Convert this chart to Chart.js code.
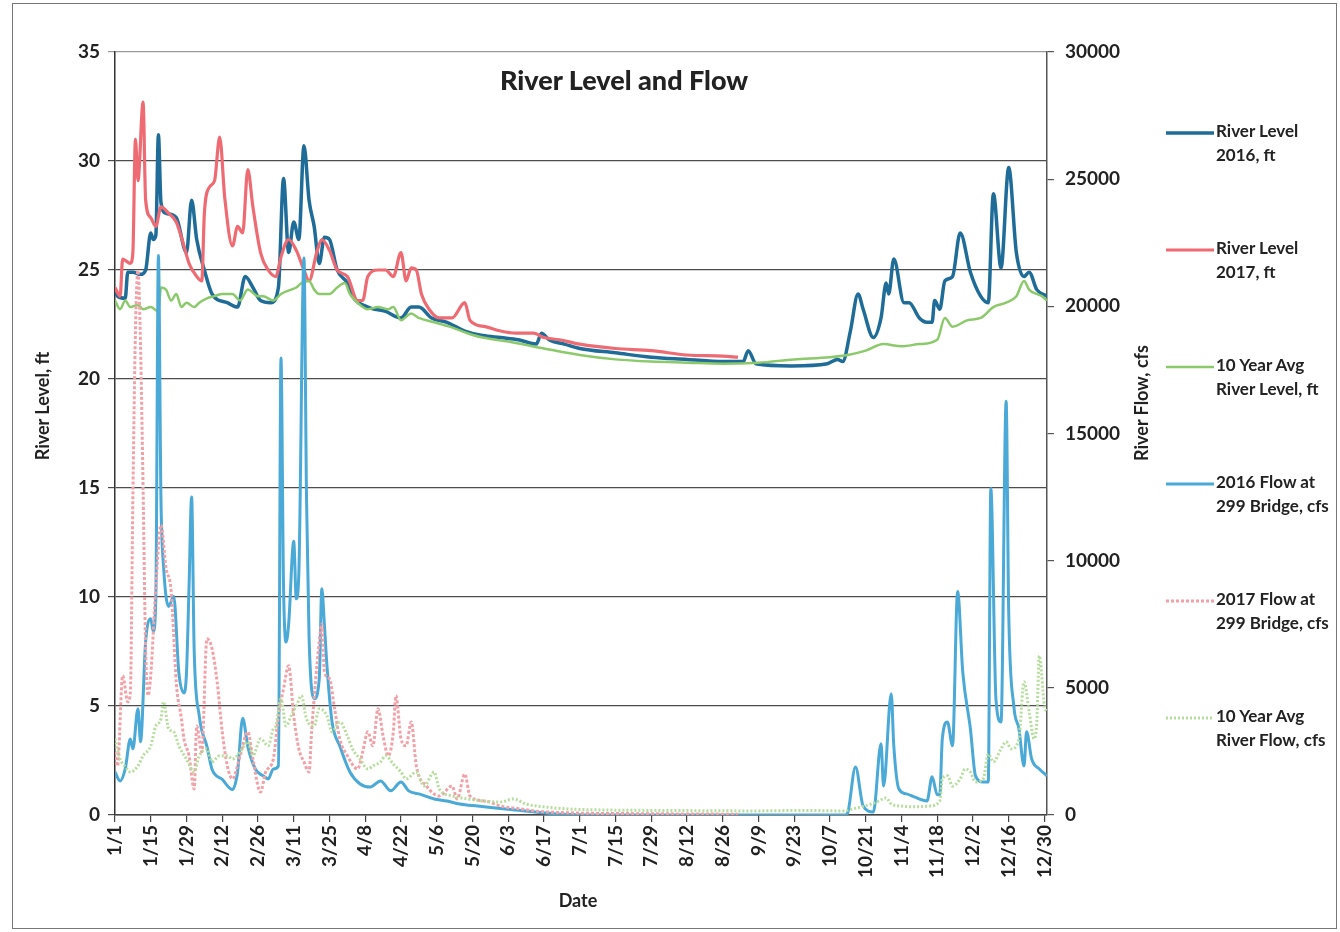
<!DOCTYPE html>
<html>
<head>
<meta charset="utf-8">
<title>River Level and Flow</title>
<script src="https://cdn.jsdelivr.net/npm/chart.js@4.4.1/dist/chart.umd.min.js"></script>
<style>
  html, body { margin: 0; padding: 0; background: #fff; }
  #wrap { position: relative; width: 1340px; height: 932px; overflow: hidden; font-family: Lato, "Open Sans", sans-serif; color: #222; }
  #c { position: absolute; left: 0; top: 0; }
  #frame { position: absolute; left: 12px; top: 3px; width: 1325px; height: 926px; box-sizing: border-box; border: 1px solid #777; pointer-events: none; }
  #title { position: absolute; left: 0; width: 1248px; top: 63px; text-align: center; font-weight: 900; font-size: 27px; line-height: 34px; color: #222; }
  .axt { position: absolute; white-space: nowrap; font-weight: bold; font-size: 18px; line-height: 22px; color: #222; transform: translate(-50%, -50%); }
  .axt.rot { transform: translate(-50%, -50%) rotate(-90deg); }
  .leg { position: absolute; left: 1165px; width: 172px; height: 50px; }
  .leg svg { position: absolute; left: 0; top: 0; }
  .leg .txt { position: absolute; left: 51px; top: -11px; font-weight: bold; font-size: 17px; line-height: 24px; color: #222; white-space: nowrap; }
</style>
</head>
<body>
<div id="wrap">
  <canvas id="c" width="1340" height="932"></canvas>
  <div id="frame"></div>
  <div id="title">River Level and Flow</div>
  <div class="axt rot" style="left:42px; top:406px;">River Level, ft</div>
  <div class="axt rot" style="left:1141px; top:403px;">River Flow, cfs</div>
  <div class="axt" style="left:578px; top:900px;">Date</div>
  <div id="legend"></div>
</div>
<script>
// Date axis tick labels (2016 calendar, every 14 days)
const tickLabels = ['1/1','1/15','1/29','2/12','2/26','3/11','3/25','4/8','4/22','5/6','5/20','6/3','6/17',
  '7/1','7/15','7/29','8/12','8/26','9/9','9/23','10/7','10/21','11/4','11/18','12/2','12/16','12/30'];

// River level 2016 (ft), by day of year
const level2016Day = [0,1,4,5,7,10,12,14,15,16,17,18,20,24,28,30,32,35,38,44,48,51,54,57,61,64,66,68,70,72,74,76,78,80,82,84,87,91,93,99,106,112,116,119,124,130,137,144,151,158,165,167,170,176,182,196,210,224,238,246,248,251,265,279,283,285,288,291,293,297,300,302,303,305,309,311,315,318,320,321,323,325,328,331,335,339,342,344,347,350,353,356,358,361,365];
const level2016Ft = [24.0,23.8,23.7,24.9,24.9,24.8,25.0,26.7,26.4,26.6,31.2,28.1,27.6,27.4,25.8,28.2,26.4,25.0,23.9,23.5,23.3,24.7,24.2,23.6,23.5,24.2,29.2,25.8,27.2,26.4,30.7,28.2,27.0,25.3,26.5,26.4,25.0,24.4,23.8,23.3,23.1,22.8,23.3,23.3,22.8,22.6,22.2,22.0,21.9,21.8,21.6,22.1,21.8,21.6,21.4,21.2,21.0,20.9,20.8,20.8,21.3,20.7,20.6,20.7,20.9,20.8,22.2,23.9,23.2,21.9,22.8,24.4,23.9,25.5,23.5,23.5,22.8,22.6,22.6,23.6,23.2,24.5,24.7,26.7,24.9,23.8,23.5,28.5,25.1,29.7,25.8,24.7,24.9,24.1,23.8];

// River level 2017 (ft)
const level2017Day = [0,2,3,6,7,8,9,11,12,14,16,18,21,24,27,29,32,34,35,37,39,41,43,46,48,50,52,54,57,60,63,65,68,71,74,76,79,81,84,87,91,95,97,99,103,106,109,112,114,116,118,120,123,127,132,137,139,145,151,157,164,168,174,182,196,210,224,238,244];
const level2017Ft = [24.2,23.8,25.5,25.3,25.8,31.0,29.1,32.7,28.2,27.4,27.0,27.9,27.6,27.2,26.1,25.3,24.7,24.5,27.6,28.8,29.1,31.1,28.3,26.1,27.0,26.7,29.6,27.9,25.8,25.0,24.7,25.6,26.4,25.9,25.0,24.5,25.8,26.4,25.9,25.0,24.7,23.6,23.6,24.7,25.0,25.0,24.7,25.8,24.5,25.1,25.0,23.9,23.2,22.8,22.8,23.5,22.7,22.4,22.2,22.1,22.1,21.9,21.8,21.6,21.4,21.3,21.1,21.05,21.0];

// 10 year average river level (ft)
const levelAvgDay = [0,2,4,6,9,11,14,17,18,20,22,24,26,28,31,33,36,39,42,46,49,52,56,58,62,65,69,71,73,76,78,80,84,87,90,92,95,99,103,107,109,112,116,119,125,131,138,144,155,168,182,196,210,224,238,252,266,280,287,294,301,308,315,322,325,328,334,339,344,349,353,356,358,361,363,365];
const levelAvgFt = [23.6,23.2,23.6,23.3,23.4,23.2,23.3,23.1,24.2,24.1,23.6,23.9,23.3,23.5,23.3,23.5,23.7,23.8,23.9,23.9,23.6,24.1,23.8,23.8,23.6,23.9,24.1,24.2,24.4,24.5,24.1,23.9,23.9,24.2,24.4,23.9,23.5,23.2,23.3,23.2,23.3,22.7,23.0,22.8,22.6,22.4,22.1,21.9,21.7,21.4,21.1,20.9,20.8,20.75,20.7,20.75,20.9,21.0,21.1,21.3,21.6,21.5,21.6,21.8,22.8,22.4,22.7,22.8,23.3,23.5,23.8,24.5,24.1,23.9,23.8,23.6];

// 2016 flow at 299 Bridge (cfs)
const flow2016Day = [0,2,4,6,7,9,10,12,14,15,16,17,18,19,21,23,25,27,28,29,30,31,33,36,38,42,46,48,50,52,55,58,60,62,64,65,66,67,68,70,71,72,74,75,76,78,80,81,82,83,85,88,92,96,100,104,108,112,115,119,125,130,135,142,153,166,175,185,286,287,290,293,297,300,301,304,305,307,310,313,318,320,322,323,324,326,328,330,332,335,337,340,342,343,345,347,349,350,352,354,356,357,359,362,365];
const flow2016Cfs = [1690,1340,1810,2990,2600,4180,2880,6820,7720,7210,8600,22000,12400,9800,8200,8600,5600,4800,5600,9000,12500,6500,3900,2700,1800,1400,1000,1700,3800,2700,1800,1540,1420,1810,1930,17970,9000,6800,7500,10760,8500,9500,21900,12500,7000,4570,5360,8900,7500,5870,3660,2720,1690,1220,1100,1340,950,1300,950,830,630,550,430,350,240,100,30,0,0,100,1890,350,120,2800,1140,4770,2720,1020,830,710,550,1500,800,800,2990,3660,2720,8790,5630,3390,1540,1300,1300,12840,4570,3660,16270,8000,4290,3390,1930,3270,2200,1810,1540];

// 2017 flow at 299 Bridge (cfs)
const flow2017Day = [0,1,3,5,6,7,8,9,10,11,12,13,14,16,18,20,22,24,26,27,29,31,32,34,36,38,40,42,44,46,49,52,54,57,59,62,64,66,68,70,72,74,76,77,80,81,82,84,86,88,91,95,97,99,101,103,105,107,109,110,112,114,116,118,122,127,132,134,137,139,145,151,158,165,180,210,244];
const flow2017Cfs = [2480,1930,5480,4450,4800,12500,19000,21400,18500,12800,6500,4700,5500,9000,11400,9700,8800,5200,3800,3000,2330,1020,3500,2480,6930,6540,5240,3270,1930,1420,2330,3270,2200,900,1690,2200,3900,4960,5870,3900,2600,2090,1690,3270,6820,7500,5630,5360,4180,3000,2330,1810,2480,3270,2720,4180,3110,2330,3270,4690,3000,2720,3660,1930,1140,750,1140,630,1610,750,550,350,250,150,80,50,30];

// 10 year average river flow (cfs)
const flowAvgDay = [0,2,4,6,9,11,14,16,18,19,21,23,25,28,31,33,36,38,41,44,46,49,52,54,57,60,62,63,65,67,69,71,73,75,78,80,83,85,88,91,93,96,99,101,104,106,109,112,114,118,121,125,127,132,138,144,151,156,161,168,177,190,210,230,250,270,285,289,296,299,302,304,308,314,319,323,324,326,328,331,333,335,337,340,342,344,347,349,351,354,356,358,360,361,362,364,365];
const flowAvgCfs = [3000,2200,1900,1690,1930,2330,2720,3500,3780,4450,3390,3270,2720,2200,1690,2330,2600,2090,2330,2330,2200,2480,2880,2330,3000,2720,3390,3500,4570,3500,3900,4290,4690,3780,3500,4180,3900,3270,3660,3110,2600,2200,1810,1930,2090,2330,2000,1690,1420,1690,1140,1690,1020,750,630,550,510,630,430,320,240,200,180,170,160,180,160,240,430,550,670,430,350,320,350,550,1420,1540,1140,1420,1810,1690,1300,1420,2400,2090,2600,2880,2600,2990,5240,4060,2990,3660,6260,4290,4060];

// Tick positions as day-of-year
const DAY_MS = 86400000;
const tickDays = tickLabels.map(s => {
  const [m, d] = s.split('/').map(Number);
  return Math.round((Date.UTC(2016, m - 1, d) - Date.UTC(2016, 0, 1)) / DAY_MS);
});

const toPoints = (days, vals) => days.map((d, i) => ({ x: d, y: vals[i] }));

const series = [
  { label: ['River Level', '2016, ft'],        days: level2016Day, vals: level2016Ft, axis: 'y',  color: '#1f6c98', dash: [],     width: 3.5, order: 6 },
  { label: ['River Level', '2017, ft'],        days: level2017Day, vals: level2017Ft, axis: 'y',  color: '#ee6b73', dash: [],     width: 3.2, order: 5 },
  { label: ['10 Year Avg', 'River Level, ft'], days: levelAvgDay,  vals: levelAvgFt,  axis: 'y',  color: '#8cc96b', dash: [],     width: 2.5, order: 4 },
  { label: ['2016 Flow at', '299 Bridge, cfs'],days: flow2016Day,  vals: flow2016Cfs, axis: 'y2', color: '#4aa9d6', dash: [],     width: 3,   order: 3 },
  { label: ['2017 Flow at', '299 Bridge, cfs'],days: flow2017Day,  vals: flow2017Cfs, axis: 'y2', color: '#f2a1a8', dash: [3, 2], width: 3,   order: 2 },
  { label: ['10 Year Avg', 'River Flow, cfs'], days: flowAvgDay,   vals: flowAvgCfs,  axis: 'y2', color: '#b5dd9c', dash: [2, 2], width: 3,   order: 1 }
];

const tickFont = { family: 'Lato', size: 19, weight: 'bold' };

new Chart(document.getElementById('c'), {
  type: 'line',
  data: {
    datasets: series.map(s => ({
      label: s.label.join(' '),
      data: toPoints(s.days, s.vals),
      yAxisID: s.axis,
      borderColor: s.color,
      borderWidth: s.width,
      borderDash: s.dash,
      borderJoinStyle: 'round',
      pointRadius: 0,
      fill: false,
      tension: 0.25,
      cubicInterpolationMode: 'monotone',
      order: s.order
    }))
  },
  options: {
    responsive: false,
    animation: false,
    layout: { padding: { left: 20, right: 193, top: 52, bottom: 17 } },
    plugins: { legend: { display: false }, tooltip: { enabled: false } },
    scales: {
      x: {
        type: 'linear', min: 0, max: 365,
        afterBuildTicks: s => { s.ticks = tickDays.map(v => ({ value: v })); },
        afterFit: s => { s.height = 100; },
        ticks: { autoSkip: false, minRotation: 90, maxRotation: 90, padding: 3, color: '#222', font: tickFont,
                 callback: (v, i) => tickLabels[i] },
        grid: { drawOnChartArea: false, drawTicks: true, tickLength: 7, color: '#444', lineWidth: 1.2 },
        border: { display: true, color: '#444', width: 1.5 }
      },
      y: {
        position: 'left', min: 0, max: 35,
        afterFit: s => { s.width = 95; },
        ticks: { stepSize: 5, padding: 8, color: '#222', font: tickFont },
        grid: { color: c => (c.tick && c.tick.value === 35) ? '#9a9a9a' : '#4d4d4d', lineWidth: 1.2, tickLength: 7 },
        border: { display: true, color: '#333', width: 1.5 }
      },
      y2: {
        position: 'right', min: 0, max: 30000,
        afterFit: s => { s.width = 100; },
        ticks: { stepSize: 5000, padding: 11, color: '#222', font: tickFont, callback: v => String(v) },
        grid: { drawOnChartArea: false, tickLength: 7, color: '#555', lineWidth: 1.2 },
        border: { display: true, color: '#555', width: 1.5 }
      }
    }
  }
});

// Legend on the right, two-line labels with line samples
const legend = document.getElementById('legend');
series.forEach((s, i) => {
  const item = document.createElement('div');
  item.className = 'leg';
  item.style.top = (130 + 117 * i) + 'px';
  const dash = s.dash.length ? ` stroke-dasharray="${s.dash.join(',')}"` : '';
  item.innerHTML =
    `<svg width="50" height="6"><line x1="1" y1="3" x2="49" y2="3" stroke="${s.color}" stroke-width="${s.width}"${dash}/></svg>` +
    `<div class="txt">${s.label[0]}<br>${s.label[1]}</div>`;
  legend.appendChild(item);
});
</script>
</body>
</html>
